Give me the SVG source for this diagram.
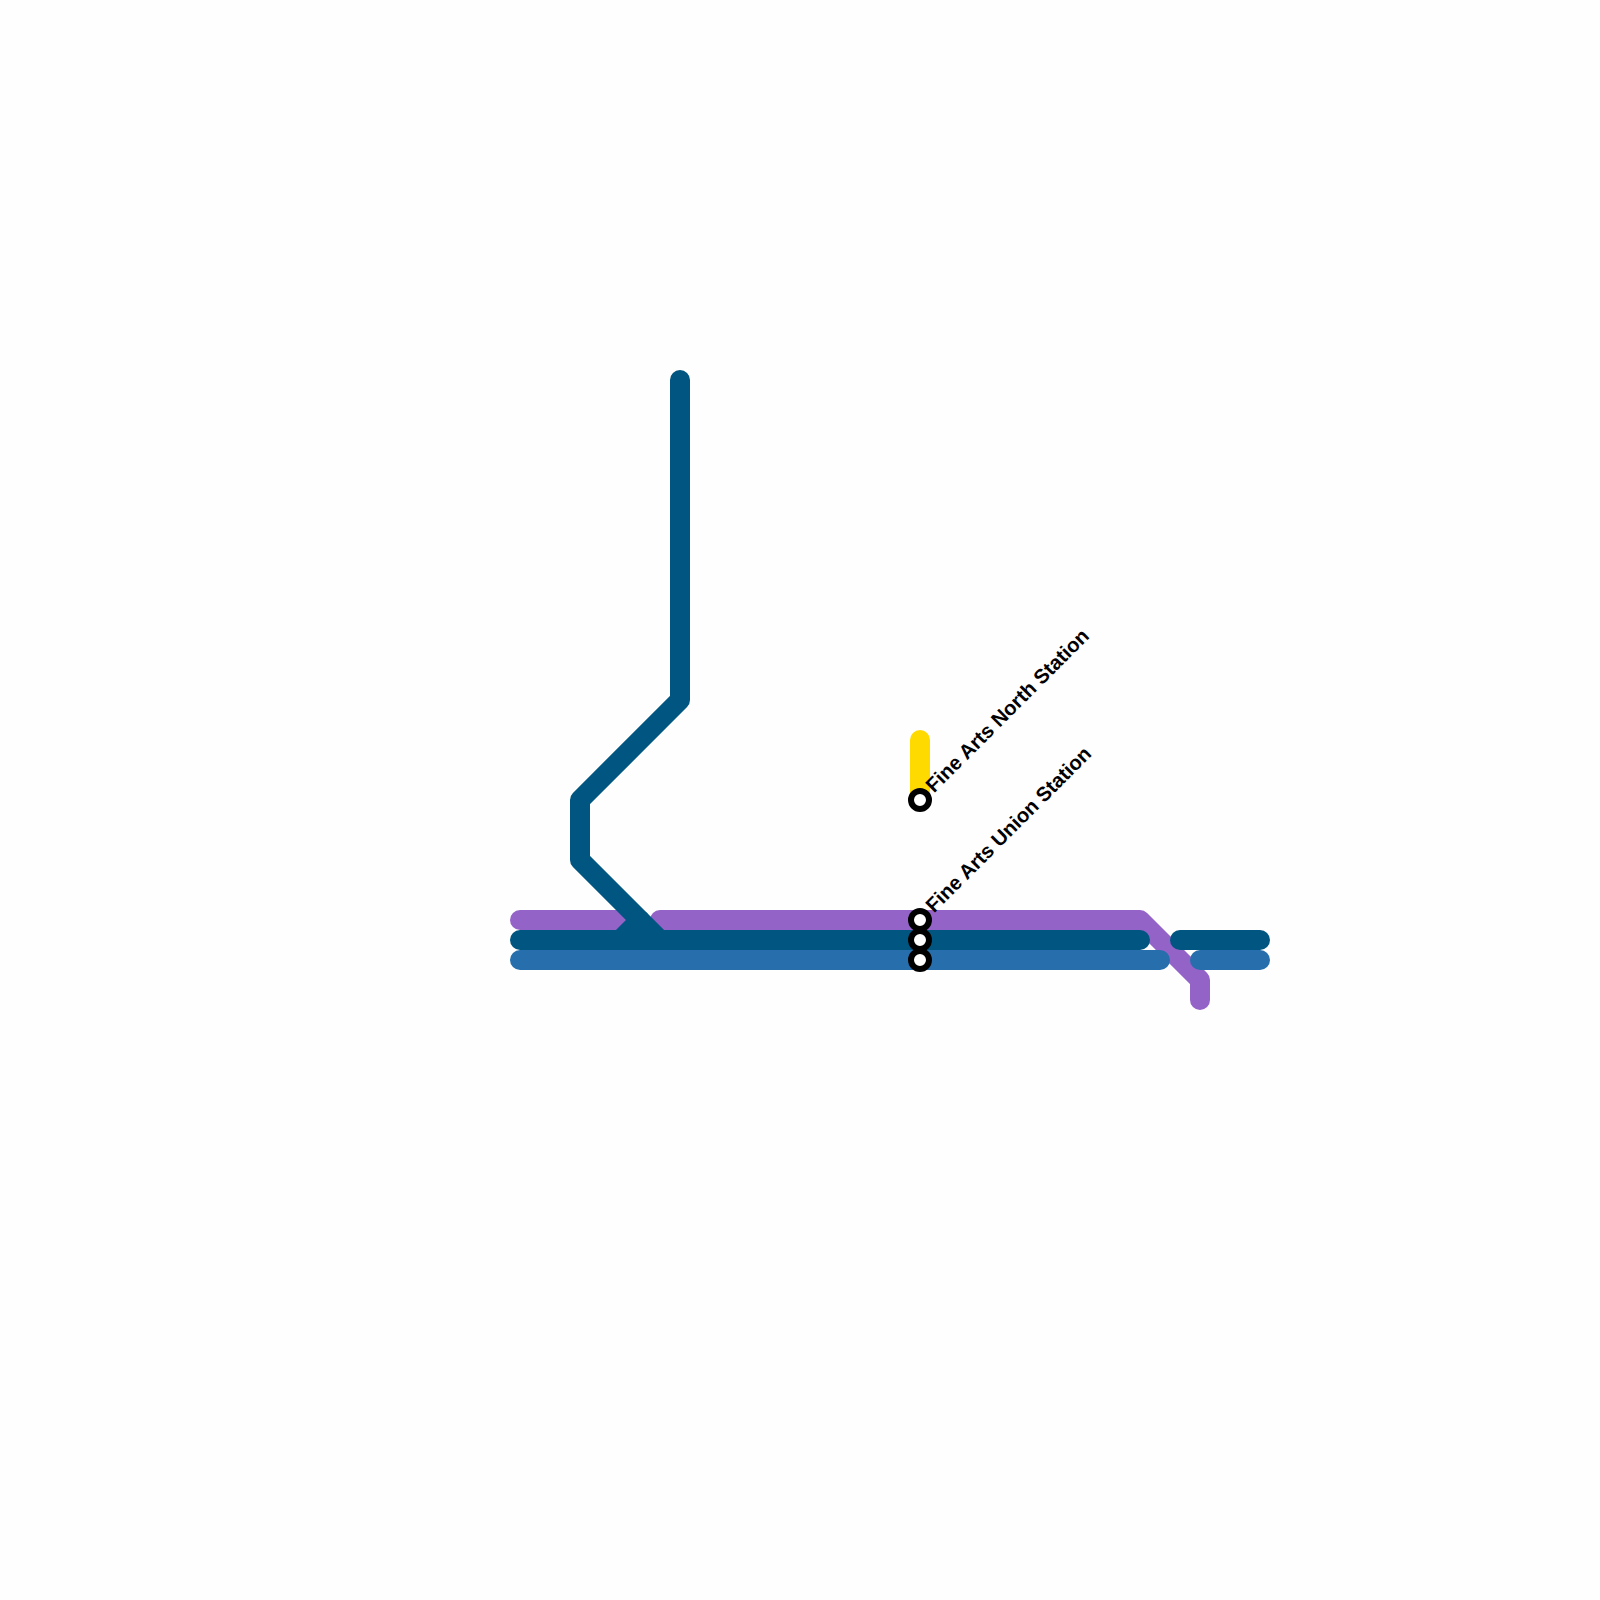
<svg xmlns="http://www.w3.org/2000/svg" width="1600" height="1600" viewBox="0 0 1600 1600">
<style>
.l{fill:none;stroke-width:20;stroke-linecap:round;stroke-linejoin:round}
.p{stroke:#9463c8}.d{stroke:#005680}.b{stroke:#266fac}.y{stroke:#ffda00}
.s{fill:#fff;stroke:#000;stroke-width:6}
.t{font-family:"Liberation Sans",Arial,sans-serif;font-weight:700;font-size:20.25px;fill:#000;text-rendering:geometricPrecision}
</style>
<rect width="1600" height="1600" fill="#fefefe"/>
<g id="connectors">
<path class="l p" d="M520 920H630"/>
<path class="l p" d="M660 920H1140L1200 980V1000"/>
<path class="l y" d="M920 740V800"/>
<path class="l d" d="M680 380V700L580 800V860L660 940"/>
<path class="l d" d="M640 920L620 940"/>
<path class="l d" d="M520 940H1140"/>
<path class="l d" d="M1180 940H1260"/>
<path class="l b" d="M520 960H1160"/>
<path class="l b" d="M1200 960H1260"/>
</g>
<g id="station-north">
<circle class="s" cx="920" cy="800" r="9"/>
<text class="t" transform="translate(934 793.5) rotate(-45)">Fine Arts North Station</text>
</g>
<g id="station-union">
<circle class="s" cx="920" cy="920" r="9"/>
<circle class="s" cx="920" cy="940" r="9"/>
<circle class="s" cx="920" cy="960" r="9"/>
<text class="t" transform="translate(934 913.5) rotate(-45)">Fine Arts Union Station</text>
</g>
</svg>
